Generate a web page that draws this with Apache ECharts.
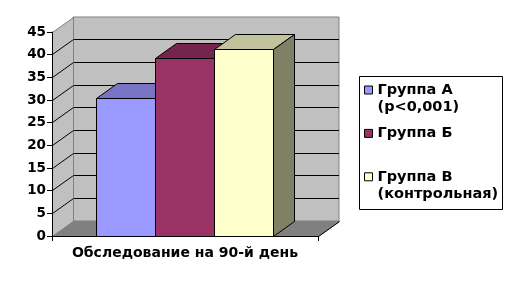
<!DOCTYPE html>
<html><head><meta charset="utf-8">
<script src="https://cdn.jsdelivr.net/npm/echarts@6/dist/echarts.min.js"></script>
<style>html,body{margin:0;padding:0;background:#fff;}#c{width:513px;height:287px;}</style>
</head><body><div id="c"></div>
<script>
// ---- data ----
const categories = ['Обследование на 90-й день'];
const seriesNames = ['Группа А\n(p<0,001)', 'Группа Б', 'Группа В\n(контрольная)'];
const valuesA = [30.4];
const valuesB = [39.1];
const valuesC = [41.2];
const yTicks = [0, 5, 10, 15, 20, 25, 30, 35, 40, 45];

// ---- styles / layout ----
const FONT = 'DejaVu Sans';
const GRID = {left: 52, top: 32, width: 266, height: 204};
const DX = 21, DY = -15;
const GROUP_RATIO = 0.667;
const frontColors = ['#9999ff', '#993366', '#ffffcc'];
const topColors = ['#7874c4', '#74244e', '#c2c29c'];
const sideColors = ['#5c5c99', '#5c1f3d', '#808064'];

const yMin = yTicks[0], yMax = yTicks[yTicks.length - 1], yStep = yTicks[1] - yTicks[0];

function px(v) { return Math.round(v - 0.5) + 0.5; }

function wallsRender(params, api) {
  const cs = params.coordSys;
  const L = px(cs.x), R = px(cs.x + cs.width);
  const T = px(cs.y), B = px(cs.y + cs.height);
  const children = [];
  children.push({type: 'polygon', shape: {points: [[L, T], [L + DX, T + DY], [L + DX, B + DY], [L, B]]},
    style: {fill: '#c0c0c0', stroke: '#808080', lineWidth: 1}});
  children.push({type: 'polygon', shape: {points: [[L, B], [R, B], [R + DX, B + DY], [L + DX, B + DY]]},
    style: {fill: '#808080', stroke: '#808080', lineWidth: 1}});
  children.push({type: 'line', shape: {x1: R, y1: B, x2: R + DX, y2: B + DY}, style: {stroke: '#000', lineWidth: 1}});
  yTicks.slice(1, -1).forEach(function (t) {
    const p = api.coord([0, t]);
    const y = px(p[1]);
    children.push({type: 'line', shape: {x1: L, y1: y, x2: L + DX, y2: y + DY}, style: {stroke: '#000', lineWidth: 1}});
  });
  return {type: 'group', children: children};
}

function barRenderer(k) {
  return function (params, api) {
    const cat = api.value(0), v = api.value(1);
    const bandW = api.size([1, 0])[0];
    const groupW = bandW * GROUP_RATIO;
    const bw = groupW / seriesNames.length;
    const base = api.coord([cat, 0]);
    const top = api.coord([cat, v]);
    const x0 = px(base[0] - groupW / 2 + k * bw), x1 = px(base[0] - groupW / 2 + (k + 1) * bw);
    const y0 = px(base[1]), y1 = px(top[1]);
    const st = {stroke: '#000', lineWidth: 1};
    return {type: 'group', children: [
      {type: 'polygon', shape: {points: [[x0, y1], [x1, y1], [x1, y0], [x0, y0]]}, style: Object.assign({fill: frontColors[k]}, st)},
      {type: 'polygon', shape: {points: [[x0, y1], [x1, y1], [x1 + DX, y1 + DY], [x0 + DX, y1 + DY]]}, style: Object.assign({fill: topColors[k]}, st)},
      {type: 'polygon', shape: {points: [[x1, y1], [x1 + DX, y1 + DY], [x1 + DX, y0 + DY], [x1, y0]]}, style: Object.assign({fill: sideColors[k]}, st)}
    ]};
  };
}

const allValues = [valuesA, valuesB, valuesC];
const chart = echarts.init(document.getElementById('c'), null, {renderer: 'canvas'});
const labelFont = {fontFamily: FONT, fontWeight: 'bold', color: '#000'};

chart.setOption({
  animation: false,
  backgroundColor: '#fff',
  graphic: [{type: 'rect', shape: {x: 359.5, y: 76.5, width: 143, height: 133}, style: {fill: '#fff', stroke: '#000', lineWidth: 1}, z: 0}],
  grid: [
    Object.assign({}, GRID),
    {left: GRID.left + DX, top: GRID.top + DY, width: GRID.width, height: GRID.height, show: true,
     backgroundColor: '#c0c0c0', borderColor: '#808080', borderWidth: 1}
  ],
  xAxis: [
    {type: 'category', gridIndex: 0, data: categories, boundaryGap: true, z: 10,
     axisLine: {lineStyle: {color: '#000', width: 1}}, axisTick: {show: true, length: 5, lineStyle: {color: '#000'}},
     axisLabel: Object.assign({fontSize: 14, margin: 10}, labelFont)},
    {type: 'category', gridIndex: 1, data: categories, show: false}
  ],
  yAxis: [
    {type: 'value', gridIndex: 0, min: yMin, max: yMax, interval: yStep, z: 10,
     axisLine: {show: true, lineStyle: {color: '#000', width: 1}}, axisTick: {show: true, length: 5, lineStyle: {color: '#000'}},
     axisLabel: Object.assign({fontSize: 13.5, margin: 6}, labelFont), splitLine: {show: false}},
    {type: 'value', gridIndex: 1, min: yMin, max: yMax, interval: yStep,
     axisLine: {show: false}, axisTick: {show: false}, axisLabel: {show: false},
     splitLine: {show: true, showMinLine: false, showMaxLine: false, lineStyle: {color: '#000', width: 1}}}
  ],
  legend: {
    orient: 'vertical', left: 364, top: 64.5, padding: 0, itemGap: 9.4,
    itemWidth: 8, itemHeight: 8, icon: 'rect',
    itemStyle: {borderColor: '#000', borderWidth: 1},
    data: seriesNames,
    formatter: function (name) { return name.indexOf('\n') >= 0 ? '\u00a0\n' + name : name; },
    textStyle: {fontFamily: FONT, fontWeight: 'bold', fontSize: 14.5, color: '#000', lineHeight: 17}
  },
  series: [
    {type: 'custom', name: 'walls', xAxisIndex: 0, yAxisIndex: 0, renderItem: wallsRender, data: [[0]], silent: true, z: 1}
  ].concat(seriesNames.map(function (n, k) {
    return {type: 'custom', name: n, xAxisIndex: 0, yAxisIndex: 0, renderItem: barRenderer(k),
      itemStyle: {color: frontColors[k]}, z: 2,
      data: allValues[k].map(function (v, i) { return [i, v]; })};
  }))
});
</script></body></html>
